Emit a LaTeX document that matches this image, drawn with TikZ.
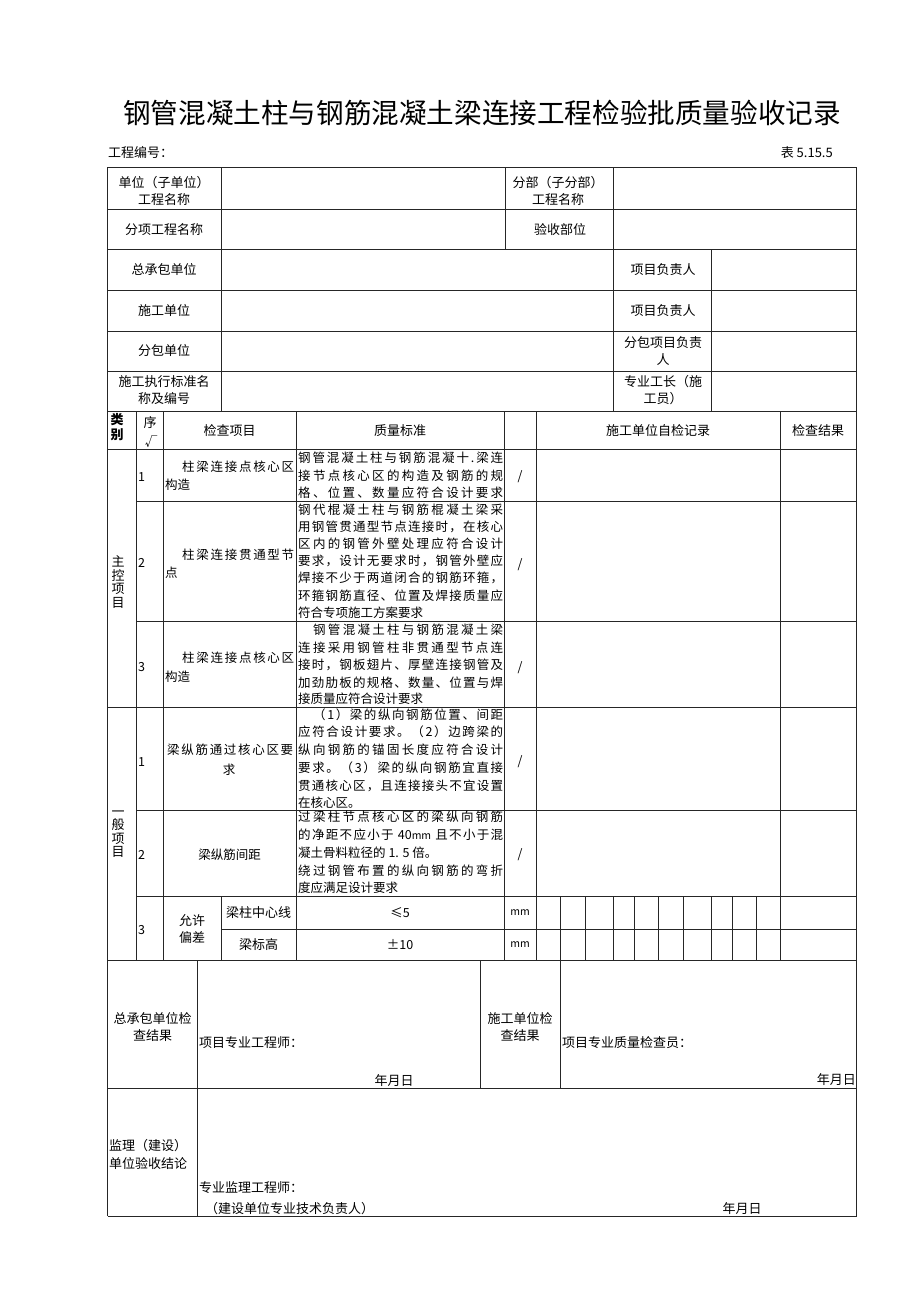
\documentclass[tikz,border=0pt]{standalone}
\usepackage{fontspec}
\setmainfont{Noto Sans CJK SC}
\def\spread#1{\spreadfirst#1\relax}
\def\spreadfirst#1{#1\spreadaux}
\def\spreadaux#1{\ifx#1\relax\else\hfil#1\expandafter\spreadaux\fi}
\tikzset{
  grid/.style={line width=0.8pt, draw=black!85},
  txt/.style={inner sep=0pt, font=\fontsize{12.5}{14}\selectfont},
  lbl/.style={inner sep=0pt, font=\fontsize{13}{17}\selectfont, align=center},
  vlbl/.style={inner sep=0pt, font=\fontsize{13}{13.5}\selectfont, align=center},
}
\newcommand\qj[3]{\node[txt,anchor=west] (#1) at (298,#2) {\hbox to 205pt{\spread{#3}}};}
\newcommand\qi[3]{\node[txt,anchor=west] (#1) at (298,#2) {\hbox to 205pt{\hskip 15pt\spread{#3}}};}
\newcommand\qn[3]{\node[txt,anchor=west] (#1) at (298,#2) {#3};}
\begin{document}
\begin{tikzpicture}[x=1pt,y=-1pt]
\useasboundingbox (0,0) rectangle (920,1301);
\fill[white] (0,0) rectangle (920,1301);

% ---------- title ----------
\node[inner sep=0pt, font=\fontsize{27.6}{30}\selectfont] (title) at (482,113) {钢管混凝土柱与钢筋混凝土梁连接工程检验批质量验收记录};
\node[txt,anchor=west,font=\fontsize{13}{15}\selectfont] (code) at (108,153) {工程编号^^^^ff1a};
\node[txt,anchor=east,font=\fontsize{13}{15}\selectfont] (tab) at (833,153) {表 5.15.5};

% ---------- horizontal lines ----------
\foreach \y in {167,209.5,249.5,290.5,331,371,411.5,449,707,960.5,1088.5,1216}
  \draw[grid] (107.5,\y) -- (856.5,\y);
\foreach \y in {501,621,810,896}
  \draw[grid] (136,\y) -- (856.5,\y);
\draw[grid] (221,929) -- (856.5,929);

% ---------- vertical lines ----------
\draw[grid] (107.5,167) -- (107.5,1216);
\draw[grid] (856.5,167) -- (856.5,1216);
\draw[grid] (221,167) -- (221,411.5);
\draw[grid] (505.5,167) -- (505.5,249.5);
\draw[grid] (613,167) -- (613,411.5);
\draw[grid] (711,249.5) -- (711,411.5);
\foreach \x in {136,163,296,504,536.5,780}
  \draw[grid] (\x,411.5) -- (\x,960.5);
\draw[grid] (221,896) -- (221,960.5);
\foreach \x in {560,585,613,634,658,683,711.5,732,756}
  \draw[grid] (\x,896) -- (\x,960.5);
\draw[grid] (197,960.5) -- (197,1216);
\draw[grid] (480,960.5) -- (480,1088.5);
\draw[grid] (560,960.5) -- (560,1088.5);

% ---------- top section ----------
\node[lbl] (a1) at (164,191) {单位^^^^ff08子单位^^^^ff09\\工程名称};
\node[lbl] (a2) at (558,191) {分部^^^^ff08子分部^^^^ff09\\工程名称};
\node[lbl] (a3) at (164,230) {分项工程名称};
\node[lbl] (a4) at (560,230) {验收部位};
\node[lbl] (a5) at (164,270) {总承包单位};
\node[lbl] (a6) at (663,270) {项目负责人};
\node[lbl] (a7) at (164,311) {施工单位};
\node[lbl] (a8) at (663,311) {项目负责人};
\node[lbl] (a9) at (164,351) {分包单位};
\node[lbl] (a10) at (663,351) {分包项目负责\\人};
\node[lbl] (a11) at (164,390) {施工执行标准名\\称及编号};
\node[lbl] (a12) at (663,390) {专业工长^^^^ff08施\\工员^^^^ff09};

% ---------- header row ----------
\node[vlbl,font=\fontsize{13}{15}\selectfont\bfseries] (h1) at (117,427) {类\\别};
\node[lbl] (h2) at (150,423) {序};
\node[txt] (h2b) at (151,442) {√};
\node[lbl] (h3) at (229.5,431) {检查项目};
\node[lbl] (h4) at (400,431) {质量标准};
\node[lbl] (h5) at (658,431) {施工单位自检记录};
\node[lbl] (h6) at (818,431) {检查结果};

% ---------- main control items ----------
\node[vlbl] (m0) at (118,582) {主\\控\\项\\目};
\node[txt,anchor=west] (m1n) at (138,477) {1};
\node[txt,anchor=west] (m2n) at (138,563) {2};
\node[txt,anchor=west] (m3n) at (138,667) {3};
\node[txt,anchor=west] (m1a) at (165,467) {\hbox to 129pt{\hskip 17pt\spread{柱梁连接点核心区}}};
\node[txt,anchor=west] (m1b) at (165,485) {构造};
\node[txt,anchor=west] (m2a) at (165,555) {\hbox to 129pt{\hskip 17pt\spread{柱梁连接贯通型节}}};
\node[txt,anchor=west] (m2b) at (165,573) {点};
\node[txt,anchor=west] (m3a) at (165,658) {\hbox to 129pt{\hskip 17pt\spread{柱梁连接点核心区}}};
\node[txt,anchor=west] (m3b) at (165,677) {构造};

\qj{q11}{458}{钢管混凝土柱与钢筋混凝十.梁连}
\qj{q12}{476}{接节点核心区的构造及钢筋的规}
\qj{q13}{493}{格、位置、数量应符合设计要求}

\qj{q21}{509.5}{钢代棍凝土柱与钢筋棍凝土梁采}
\qj{q22}{526.7}{用钢管贯通型节点连接时^^^^ff0c在核心}
\qj{q23}{543.9}{区内的钢管外壁处理应符合设计}
\qj{q24}{561.1}{要求^^^^ff0c设计无要求时^^^^ff0c钢管外壁应}
\qj{q25}{578.3}{焊接不少于两道闭合的钢筋环箍^^^^ff0c}
\qj{q26}{595.5}{环箍钢筋直径、位置及焊接质量应}
\qn{q27}{612.7}{符合专项施工方案要求}

\qi{q31}{630}{钢管混凝土柱与钢筋混凝土梁}
\qj{q32}{648}{连接采用钢管柱非贯通型节点连}
\qj{q33}{665}{接时^^^^ff0c钢板翅片、厚壁连接钢管及}
\qj{q34}{683}{加劲肋板的规格、数量、位置与焊}
\qn{q35}{699}{接质量应符合设计要求}

\node[txt] (s1) at (520,477) {/};
\node[txt] (s2) at (520,565) {/};
\node[txt] (s3) at (520,668) {/};

% ---------- general items ----------
\node[vlbl] (g0) at (118,834) {一\\般\\项\\目};
\node[txt,anchor=west] (g1n) at (138,762) {1};
\node[txt,anchor=west] (g2n) at (138,855) {2};
\node[txt,anchor=west] (g3n) at (138,930) {3};
\node[txt,anchor=west] (g1a) at (167,750) {\hbox to 126pt{\spread{梁纵筋通过核心区要}}};
\node[txt] (g1b) at (229,770) {求};
\node[txt] (g2a) at (229.5,855) {梁纵筋间距};

\qi{p11}{715}{^^^^ff081^^^^ff09梁的纵向钢筋位置、间距}
\qj{p12}{732}{应符合设计要求。^^^^ff082^^^^ff09边跨梁的}
\qj{p13}{750}{纵向钢筋的锚固长度应符合设计}
\qj{p14}{768}{要求。^^^^ff083^^^^ff09梁的纵向钢筋宜直接}
\qj{p15}{786}{贯通核心区^^^^ff0c且连接接头不宜设置}
\qn{p16}{803}{在核心区。}

\qj{p21}{817}{过梁柱节点核心区的梁纵向钢筋}
\node[txt,anchor=west] (p22) at (298,835) {\hbox to 205pt{\spread{的净距不应小于}\hfil\ 40{\fontsize{10.5}{11}\selectfont mm}\ \hfil\spread{且不小于混}}};
\qn{p23}{853}{凝土骨料粒径的 1. 5 倍。}
\qj{p24}{871}{绕过钢管布置的纵向钢筋的弯折}
\qn{p25}{888}{度应满足设计要求}

\node[txt] (s4) at (520,762) {/};
\node[txt] (s5) at (520,855) {/};

\node[lbl] (g3a) at (192,929) {允许\\偏差};
\node[lbl] (g3b) at (258.5,912.5) {梁柱中心线};
\node[lbl] (g3c) at (258.5,945) {梁标高};
\node[txt] (g3d) at (400,912.5) {≤5};
\node[txt] (g3e) at (400,945) {±10};
\node[txt,font=\fontsize{10.5}{11}\selectfont] (u1) at (520,912.5) {mm};
\node[txt,font=\fontsize{10.5}{11}\selectfont] (u2) at (520,945) {mm};

% ---------- bottom section ----------
\node[lbl] (b1) at (152.5,1027) {总承包单位检\\查结果};
\node[lbl,anchor=west] (b2) at (199,1043) {项目专业工程师^^^^ff1a};
\node[lbl] (b3) at (394,1081) {年月日};
\node[lbl] (b4) at (520,1027) {施工单位检\\查结果};
\node[lbl,anchor=west] (b5) at (562,1043) {项目专业质量检查员^^^^ff1a};
\node[lbl,anchor=east] (b6) at (856,1080) {年月日};
\node[lbl,anchor=west] (b7) at (109,1146) {监理^^^^ff08建设^^^^ff09};
\node[lbl,anchor=west] (b8) at (109,1164) {单位验收结论};
\node[lbl,anchor=west] (b9) at (199,1188) {专业监理工程师^^^^ff1a};
\node[lbl,anchor=west] (b10) at (205,1209) {^^^^ff08建设单位专业技术负责人^^^^ff09};
\node[lbl] (b11) at (742,1209) {年月日};
\end{tikzpicture}
\end{document}
